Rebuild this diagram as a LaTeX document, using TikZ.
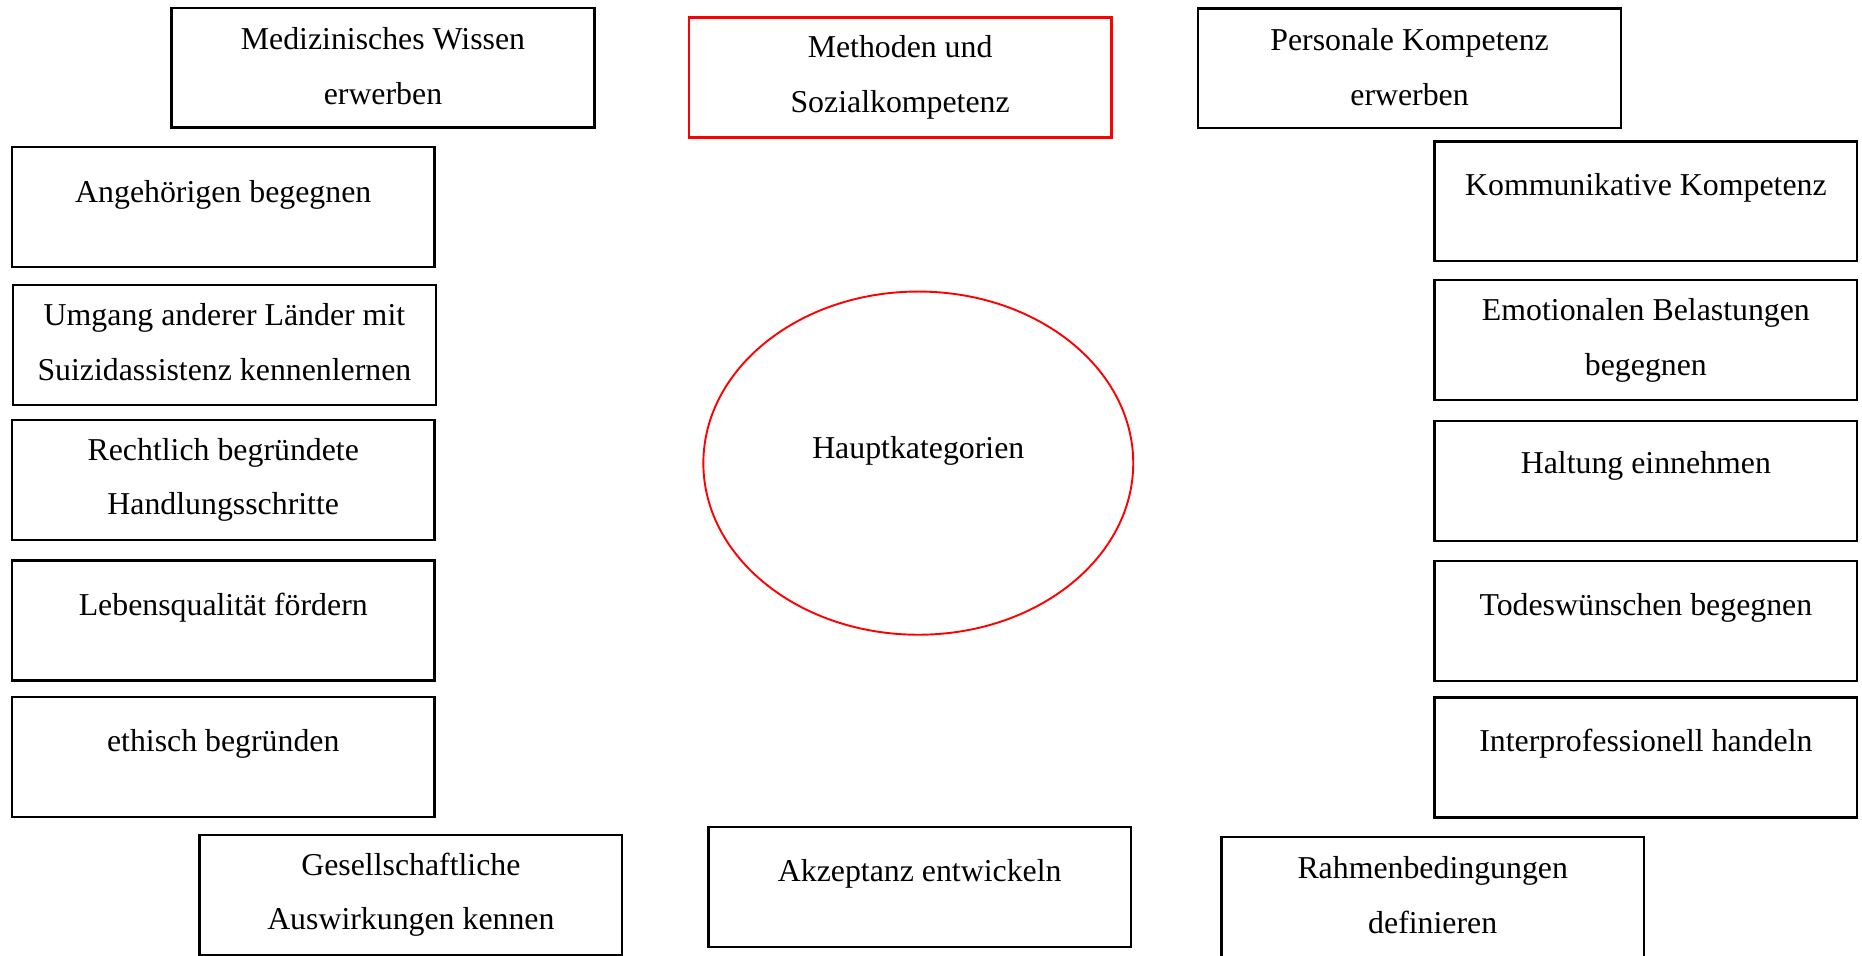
\documentclass[tikz,border=0pt]{standalone}
\usepackage{fontspec}
\setmainfont{Liberation Serif}
\usetikzlibrary{shapes.geometric}
\begin{document}
\begin{tikzpicture}[x=0.5pt,y=-0.5pt,
  box/.style={draw=black, line width=1pt, rectangle, inner sep=0pt,
    minimum width=178pt, minimum height=50.5pt},
  redbox/.style={box, draw=red},
  txt/.style={anchor=north, inner sep=0pt, align=center,
    font=\fontsize{13.4}{23}\selectfont},
  oval/.style={draw=red, line width=0.8pt, ellipse, inner sep=0pt,
    minimum width=181pt, minimum height=144.5pt}]
\useasboundingbox (0,0) rectangle (1568,805);
% top row
\node[box]    (med)  at (322.5,57)   {};
\node[txt]    (medt) at (322.5,9.3)  {\strut Medizinisches Wissen\\\strut erwerben};
\node[redbox] (meth) at (758,65.3)   {};
\node[txt]    (metht) at (758,16.1)  {\strut Methoden und\\\strut Sozialkompetenz};
\node[box]    (pers) at (1187,57.5)  {};
\node[txt]    (perst) at (1187,9.9)  {\strut Personale Kompetenz\\\strut erwerben};
% left column
\node[box] (ang)  at (188,174.5) {};
\node[txt] (angt) at (188,137.8) {\strut Angehörigen begegnen};
\node[box] (umg)  at (189,290.5) {};
\node[txt] (umgt) at (189,241.5) {\strut Umgang anderer Länder mit\\\strut Suizidassistenz kennenlernen};
\node[box] (rech)  at (188,404) {};
\node[txt] (recht) at (188,354.8) {\strut Rechtlich begründete\\\strut Handlungsschritte};
\node[box] (leb)  at (188,522.5) {};
\node[txt] (lebt) at (188,485.4) {\strut Lebensqualität fördern};
\node[box] (eth)  at (188,637.5) {};
\node[txt] (etht) at (188,600.5) {\strut ethisch begründen};
% bottom row
\node[box] (ges)  at (346,753.5) {};
\node[txt] (gest) at (346,704.4) {\strut Gesellschaftliche\\\strut Auswirkungen kennen};
\node[box] (akz)  at (774.5,747) {};
\node[txt] (akzt) at (774.5,709.8) {\strut Akzeptanz entwickeln};
\node[box] (rahm)  at (1206.5,755.5) {};
\node[txt] (rahmt) at (1206.5,707.3) {\strut Rahmenbedingungen\\\strut definieren};
% right column
\node[box] (komm)  at (1386,169.5) {};
\node[txt] (kommt) at (1386,132) {\strut Kommunikative Kompetenz};
\node[box] (emo)  at (1386,286.5) {};
\node[txt] (emot) at (1386,237.3) {\strut Emotionalen Belastungen\\\strut begegnen};
\node[box] (halt)  at (1386,405) {};
\node[txt] (haltt) at (1386,366.3) {\strut Haltung einnehmen};
\node[box] (tod)  at (1386,523) {};
\node[txt] (todt) at (1386,485.4) {\strut Todeswünschen begegnen};
\node[box] (inter)  at (1386,638) {};
\node[txt] (intert) at (1386,600.5) {\strut Interprofessionell handeln};
% centre
\node[oval] (haupt) at (773.3,390) {};
\node[txt] (hauptt) at (773.3,353.8) {\strut Hauptkategorien};
\end{tikzpicture}
\end{document}
